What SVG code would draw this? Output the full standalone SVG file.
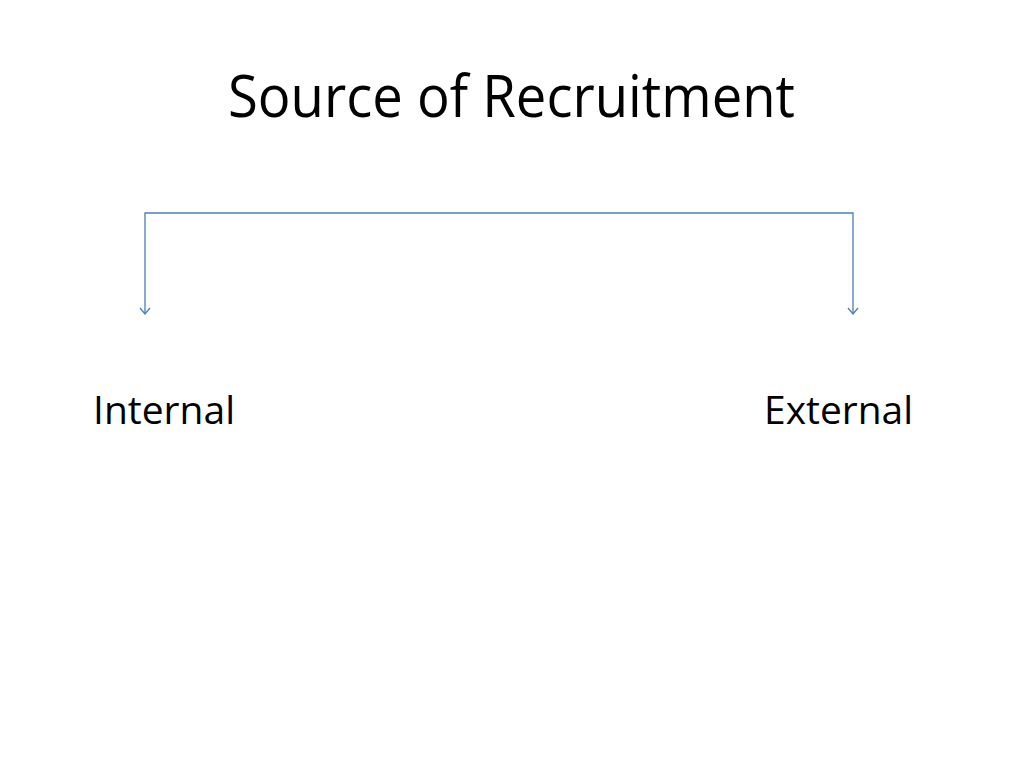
<svg xmlns="http://www.w3.org/2000/svg" width="1024" height="768" viewBox="0 0 1024 768">
<defs>
<style>
.t{font-family:"Open Sans","Liberation Sans",sans-serif;fill:#000}
.c{fill:none;stroke:#4A7EBB;stroke-width:1.3}
</style>
<marker id="ah" markerWidth="12" markerHeight="12" refX="10" refY="6" orient="auto" markerUnits="userSpaceOnUse" viewBox="0 0 12 12">
<path d="M4,1 L10,6 L4,11" fill="none" stroke="#4A7EBB" stroke-width="1.3"/>
</marker>
</defs>
<rect width="1024" height="768" fill="#fff"/>
<g id="title"><text class="t" x="228" y="117" font-size="58" textLength="567" lengthAdjust="spacingAndGlyphs">Source of Recruitment</text></g>
<g id="connectors">
<path class="c" d="M499,213 L145,213 L145,314" marker-end="url(#ah)"/>
<path class="c" d="M499,213 L853,213 L853,314" marker-end="url(#ah)"/>
</g>
<g id="internal"><text class="t" x="93" y="424" font-size="39" textLength="142" lengthAdjust="spacingAndGlyphs">Internal</text></g>
<g id="external"><text class="t" x="764" y="424" font-size="39" textLength="149" lengthAdjust="spacingAndGlyphs">External</text></g>
</svg>
